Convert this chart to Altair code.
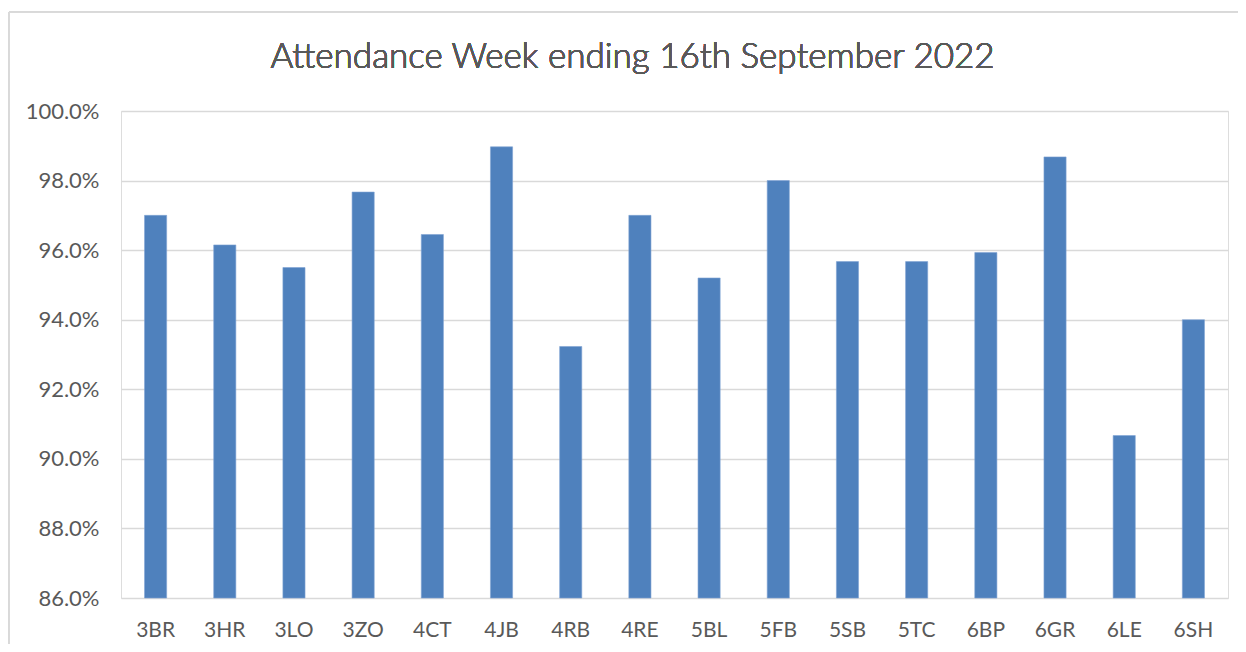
import altair as alt
import pandas as pd

classes = ["3BR", "3HR", "3LO", "3ZO", "4CT", "4JB", "4RB", "4RE",
           "5BL", "5FB", "5SB", "5TC", "6BP", "6GR", "6LE", "6SH"]
attendance = [0.970, 0.9615, 0.955, 0.9767, 0.9645, 0.9897, 0.9323, 0.970,
              0.952, 0.980, 0.9567, 0.9567, 0.9593, 0.9868, 0.9067, 0.940]
y_ticks = [0.86, 0.88, 0.90, 0.92, 0.94, 0.96, 0.98, 1.00]
title_text = "Attendance Week ending 16th September 2022"

df = pd.DataFrame({"cls": classes, "att": attendance})

FONT = "Lato"
GREY = "#595959"

bars = alt.Chart(df).mark_bar(color="#4F81BD", stroke="#7FA3D3", strokeWidth=0.6).encode(
    x=alt.X("cls:N", sort=classes, title=None,
            scale=alt.Scale(paddingInner=0.68, paddingOuter=0.34),
            axis=alt.Axis(labelAngle=0, labelFont=FONT, labelFontSize=21,
                          labelColor=GREY, ticks=False, domain=False,
                          labelPadding=38, labelBaseline="alphabetic", grid=False)),
    y=alt.Y("att:Q", title=None,
            scale=alt.Scale(domain=[0.86, 1.0], zero=False, nice=False),
            axis=alt.Axis(values=y_ticks, format=".1%", labelFont=FONT,
                          labelFontSize=22, labelColor=GREY, ticks=False,
                          domain=False, labelPadding=22, grid=True,
                          gridColor="#D9D9D9", gridWidth=1.5)),
    y2=alt.datum(0.86),
)

title = alt.Chart(df).mark_text(
    text=title_text, font=FONT, fontSize=35, fontWeight=300, color=GREY,
    align="center", baseline="alphabetic"
).encode(x=alt.value(511.5), y=alt.value(-43))

frame = alt.Chart(df).mark_rect(fill=None, stroke="#D9D9D9", strokeWidth=1).encode(
    x=alt.value(-112), x2=alt.value(1400), y=alt.value(-99), y2=alt.value(800)
)

chart = alt.layer(frame, bars, title).properties(
    width=1107, height=487,
    autosize=alt.AutoSizeParams(type="none"),
    padding={"left": 113, "top": 103, "right": 10, "bottom": 46},
).configure_view(stroke=None).configure(background="white")

chart.save("out.html", embed_options={"renderer": "svg", "actions": False})
